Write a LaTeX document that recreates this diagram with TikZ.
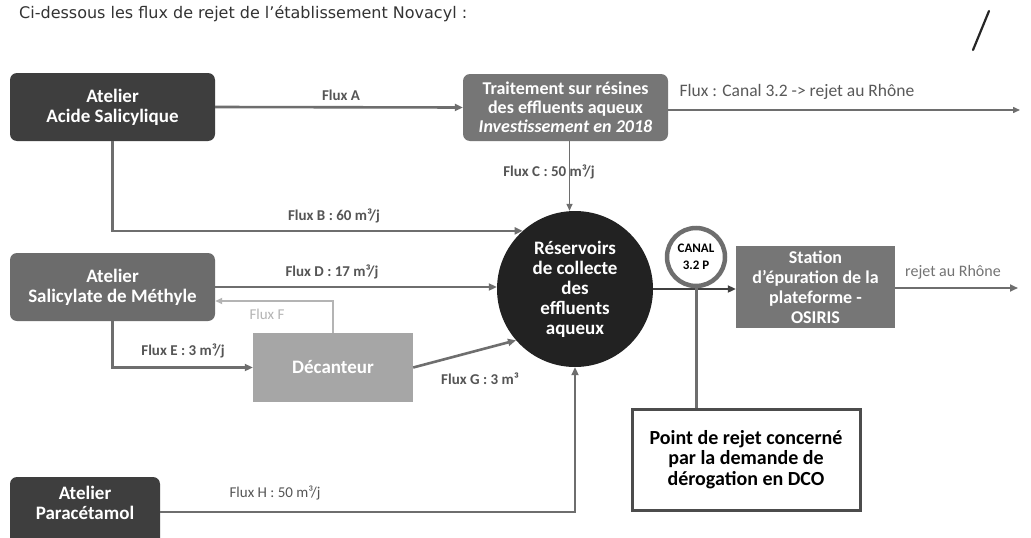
\documentclass[tikz,border=0pt]{standalone}
\usepackage{fontspec}
\setmainfont{Carlito}
\newfontfamily\titlefont{DejaVu Sans}
\usetikzlibrary{arrows.meta,calc}
\definecolor{darkbox}{HTML}{3E3E3E}
\definecolor{midbox}{HTML}{767676}
\definecolor{salbox}{HTML}{6C6C6C}
\definecolor{lightbox}{HTML}{A6A6A6}
\definecolor{resfill}{HTML}{222222}
\definecolor{flowcol}{HTML}{6E6E6E}
\definecolor{fcol}{HTML}{B4B4B4}
\definecolor{labcol}{HTML}{555555}
\tikzset{
  boxtxt/.style={text=white, font=\bfseries\fontsize{19}{20}\selectfont, align=center, inner sep=0pt},
  rbox/.style={boxtxt, rectangle, rounded corners=7pt},
  sbox/.style={boxtxt, rectangle},
  flow/.style={draw=flowcol, line width=2.6pt, -{Triangle[length=8pt,width=7pt]}},
  flowthin/.style={draw=flowcol, line width=1.4pt, -{Triangle[length=7pt,width=6pt]}},
  flowlight/.style={draw=fcol, line width=2pt, -{Triangle[length=7pt,width=6pt]}},
  lab/.style={text=labcol, font=\bfseries\fontsize{15}{16}\selectfont, inner sep=1pt},
}
\begin{document}
\begin{tikzpicture}[x=1pt,y=-1pt]
\useasboundingbox[fill=white] (0,0) rectangle (1031,538);

% title
\node[anchor=base west, text=black!80, font=\titlefont\fontsize{16}{18}\selectfont, inner sep=0pt] (title) at (19,19) {Ci-dessous les flux de rejet de l’établissement Novacyl :};

% check mark stroke
\draw[line width=2.2pt, black!85, line cap=round] (989,11) -- (973,50);

% boxes
\node[rbox, fill=darkbox, minimum width=205, minimum height=68] (acide) at (112.5,107) {Atelier\\Acide Salicylique};
\node[rbox, fill=midbox, minimum width=205, minimum height=67, font=\bfseries\fontsize{18}{19}\selectfont] (trait) at (565.5,107.5) {Traitement sur résines\\des effluents aqueux\\\textit{Investissement en 2018}};
\node[rbox, fill=salbox, minimum width=205, minimum height=68] (sal) at (112.5,287) {Atelier\\Salicylate de Méthyle};
\node[sbox, fill=lightbox, minimum width=160, minimum height=69] (dec) at (333,367.5) {Décanteur};
\node[rbox, fill=darkbox, minimum width=150, minimum height=70] (para) at (85,512) {};
\node[boxtxt] (paratxt) at (85,503) {Atelier\\Paracétamol};
\node[circle, fill=resfill, minimum size=156, boxtxt] (res) at (575,289) {Réservoirs\\de collecte\\des\\effluents\\aqueux};
\node[sbox, fill=midbox, minimum width=159, minimum height=82, font=\bfseries\fontsize{18}{20}\selectfont] (station) at (815.5,287) {Station\\d’épuration de la\\plateforme -\\OSIRIS};
\node[rectangle, draw=black!70, line width=3pt, fill=white, minimum width=228, minimum height=101, align=center, font=\bfseries\fontsize{20}{20.5}\selectfont] (point) at (746,459.5) {Point de rejet concerné\\par la demande de\\dérogation en DCO};

\coordinate (rhoneA) at (1020,110);
\coordinate (rhoneB) at (1018,288);

% connectors
\draw[flow] (acide.east) -- (trait.west);
\draw[flowthin] (trait.east |- rhoneA) -- (rhoneA);
\draw[flowthin] ([xshift=4pt]trait.south) -- ([xshift=4pt]trait.south |- res.north);
\draw[flow] (acide.south) |- (res.132);
\draw[flow] (sal.east) -- (sal.east -| res.west);
\draw[flowlight] (dec.north) |- ($(sal.east)+(0,14)$);
\draw[flow] (sal.south) |- (dec.west);
\draw[flow] (dec.east) -- (res.221);
\draw[flow] (para.east) -| (res.south);
\draw[flow, draw=black!75] (res.east) -- (res.east -| station.west);
\draw[flow] (station.east |- rhoneB) -- (rhoneB);

% canal circle
\node[circle, draw=flowcol, line width=4.5pt, fill=white, minimum size=58, inner sep=0pt, align=center, font=\bfseries\fontsize{13}{17}\selectfont] (canal) at (696,257) {CANAL\\3.2 P};
\draw[draw=flowcol, line width=3pt] (canal.south) -- (canal.south |- point.north);

% labels
\node[lab] (la) at (341,95) {Flux A};
\node[lab, font=\fontsize{17.5}{19}\selectfont, text=black!65] (lcan) at (797,92) {Flux : Canal 3.2 -> rejet au Rhône};
\node[lab] (lc) at (549,172) {Flux C : 50 m³/j};
\node[lab] (lb) at (334,216) {Flux B : 60 m³/j};
\node[lab] (ld) at (332,272) {Flux D : 17 m³/j};
\node[lab, text=fcol, font=\fontsize{15}{16}\selectfont] (lf) at (267,314) {Flux F};
\node[lab] (le) at (183,351) {Flux E : 3 m³/j};
\node[lab] (lg) at (480,379) {Flux G : 3 m³};
\node[lab, font=\fontsize{15}{16}\selectfont] (lh) at (275,493) {Flux H : 50 m³/j};
\node[lab, text=black!55, font=\fontsize{16}{17}\selectfont] (lr) at (953,272) {rejet au Rhône};
\end{tikzpicture}
\end{document}
